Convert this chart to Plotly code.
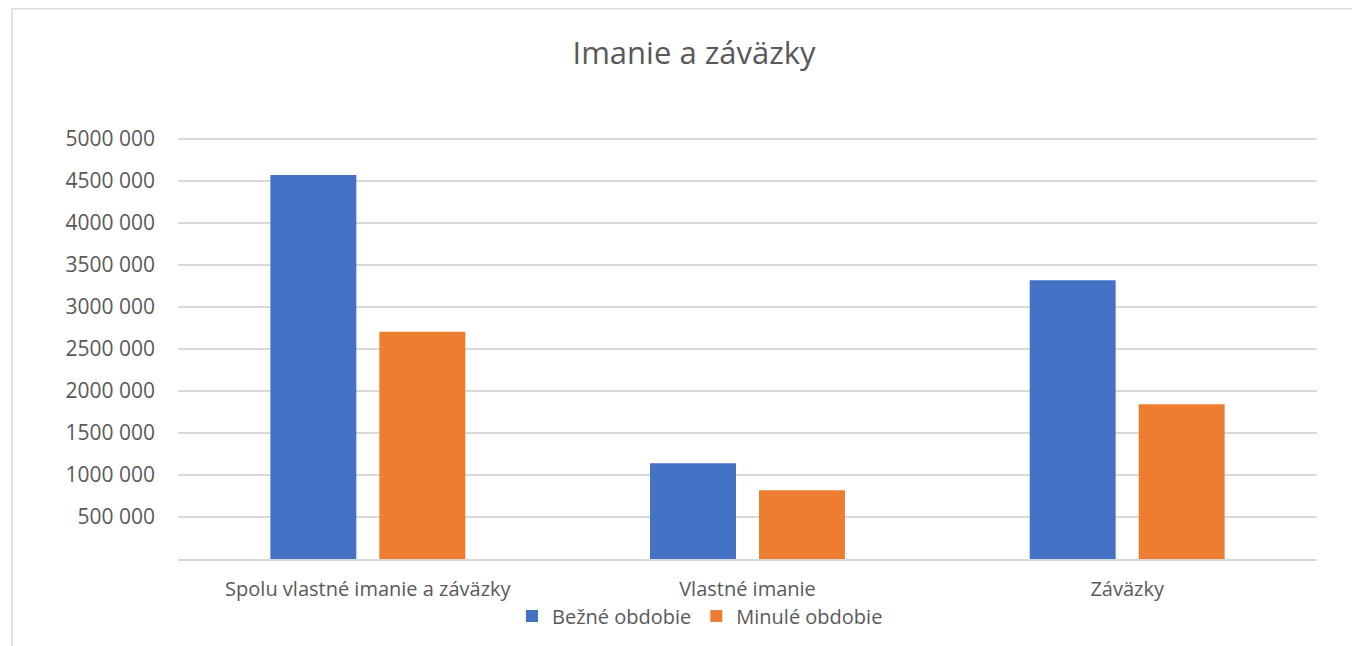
import plotly.graph_objects as go

categories = ["Spolu vlastné imanie a záväzky", "Vlastné imanie", "Záväzky"]
bezne = [4571000, 1139000, 3318000]
minule = [2706000, 818000, 1842000]
tick_vals = [500000, 1000000, 1500000, 2000000, 2500000, 3000000, 3500000, 4000000, 4500000, 5000000]
tick_text = ["500 000", "1000 000", "1500 000", "2000 000", "2500 000", "3000 000",
             "3500 000", "4000 000", "4500 000", "5000 000"]

OFF = 8  # page body margin
W, H = 1360 - OFF, 646 - OFF
# plot area in reference-screen coordinates
L, R, T, B = 178 - OFF, 1317 - OFF, 138 - OFF, 559 - OFF
YMAX = 5012000

FONT = "Open Sans"
GREY = "#595959"

fig = go.Figure()
fig.add_trace(go.Bar(name="Bežné obdobie", x=categories, y=bezne, marker_color="#4472C4",
                     marker_line_width=0))
fig.add_trace(go.Bar(name="Minulé obdobie", x=categories, y=minule, marker_color="#ED7D31",
                     marker_line_width=0))

def px2x(px):
    return (px - OFF - L) / (R - L)

def py2y(py):
    return (B - (py - OFF)) / (B - T)

fig.update_layout(
    width=W, height=H,
    margin=dict(l=L, r=W - R, t=T, b=H - B, pad=0, autoexpand=False),
    paper_bgcolor="white", plot_bgcolor="white",
    font=dict(family=FONT, color=GREY, size=21),
    title=dict(text="Imanie a záväzky", x=px2x(694), xref="paper", xanchor="center",
               y=1 - (53 - OFF) / H, yanchor="middle", font=dict(size=31, color=GREY)),
    barmode="group", bargap=0.426, bargroupgap=0.211,
    legend=dict(orientation="h", x=px2x(700), xanchor="center", y=py2y(616), yanchor="middle",
                font=dict(size=20, color=GREY), itemwidth=30, tracegroupgap=0,
                bgcolor="rgba(0,0,0,0)"),
    xaxis=dict(showline=True, linecolor="#D9D9D9", linewidth=1.5, ticks="",
               tickfont=dict(size=20, color=GREY), showgrid=False, ticklabelstandoff=11),
    yaxis=dict(range=[0, YMAX], tickvals=tick_vals, ticktext=tick_text,
               showgrid=True, gridcolor="#D9D9D9", gridwidth=1.5, zeroline=False,
               showline=False, ticks="", ticklabelstandoff=22,
               tickfont=dict(size=21, color=GREY)),
    shapes=[
        dict(type="line", xref="paper", yref="paper", x0=px2x(12), x1=px2x(1400),
             y0=py2y(8.5), y1=py2y(8.5), line=dict(color="#D9D9D9", width=1.5)),
        dict(type="line", xref="paper", yref="paper", x0=px2x(12), x1=px2x(12),
             y0=py2y(8.5), y1=py2y(700), line=dict(color="#D9D9D9", width=1.5)),
    ],
)

fig.write_html("out.html")
